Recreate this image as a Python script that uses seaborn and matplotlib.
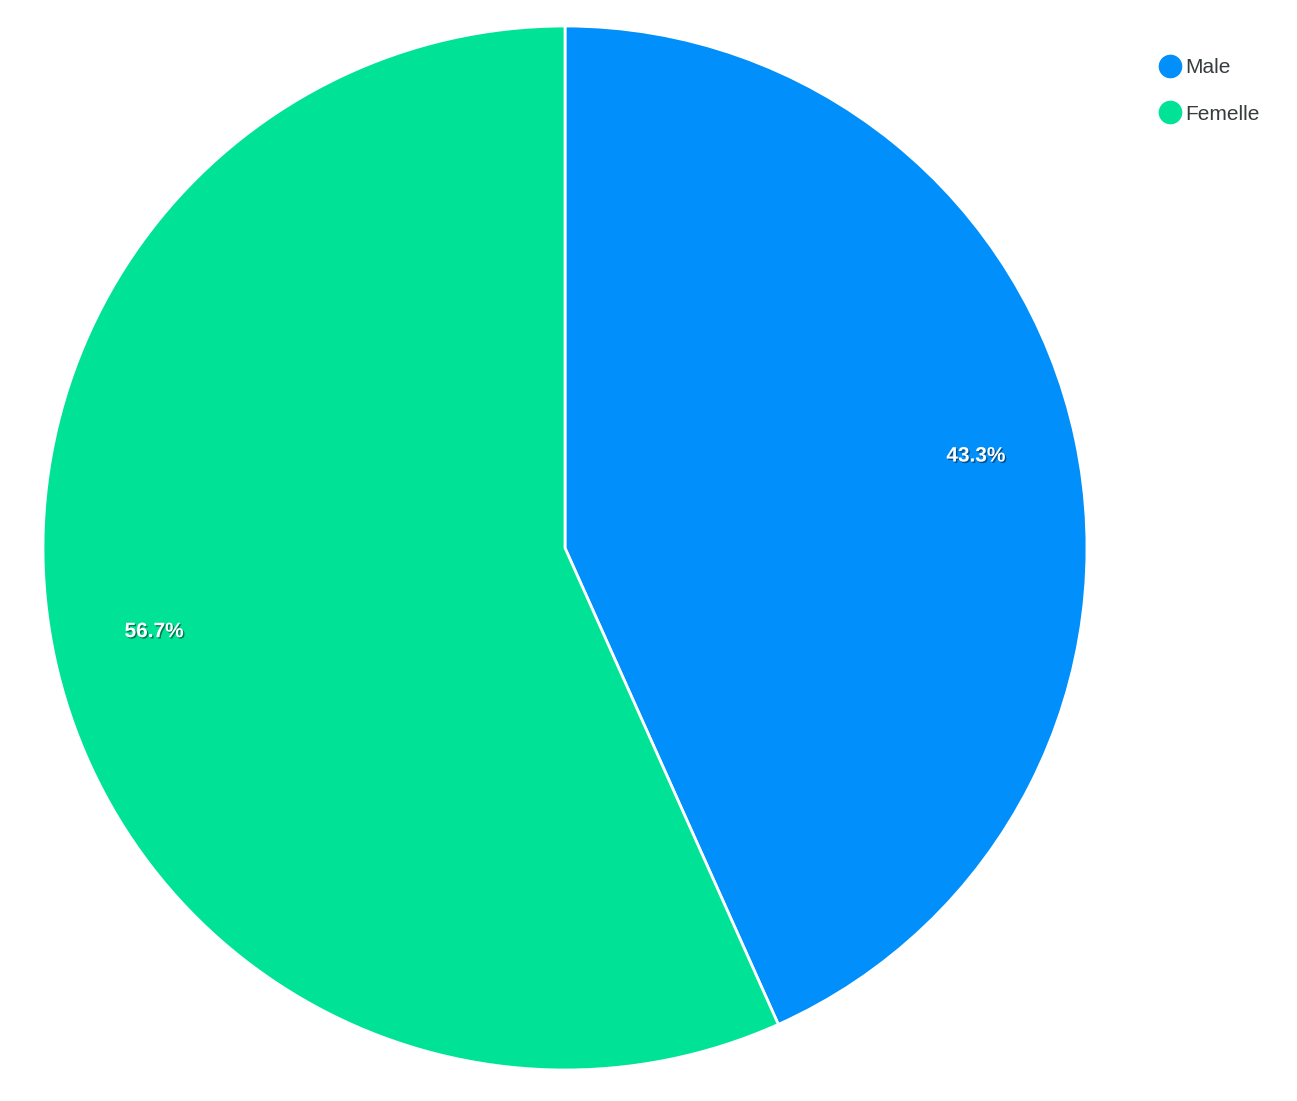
import matplotlib
matplotlib.use("Agg")
import matplotlib.pyplot as plt
import matplotlib.patheffects as pe
from matplotlib.lines import Line2D
import seaborn as sns

categories = ["Male", "Femelle"]
values = [43.3, 56.7]
colors = ["#008FFB", "#00E396"]

sns.set_theme(style="white")
plt.rcParams['font.family'] = ['Liberation Sans', 'DejaVu Sans']

W, H = 1297, 1101
fig = plt.figure(figsize=(W / 100, H / 100), dpi=100)
cx, cy, r = 565, 548, 522
ax = fig.add_axes([(cx - r) / W, (H - cy - r) / H, 2 * r / W, 2 * r / H])

wedges, texts, autotexts = ax.pie(
    values, colors=colors, startangle=90, counterclock=False,
    autopct="%.1f%%", pctdistance=0.805,
    wedgeprops=dict(edgecolor="white", linewidth=2),
    textprops=dict(color="white", fontsize=15, fontweight="bold"),
)
for t in autotexts:
    t.set_path_effects([pe.withSimplePatchShadow(offset=(1, -1), shadow_rgbFace="black", alpha=0.45)])
    x, y = t.get_position()
    t.set_position((x, y + 0.008))
ax.set_xlim(-1, 1)
ax.set_ylim(-1, 1)
ax.set_aspect("equal")
ax.axis("off")

handles = [Line2D([0], [0], marker="o", linestyle="none", markersize=16,
                  markerfacecolor=c, markeredgecolor=c) for c in colors]
fig.legend(handles, categories, loc="upper left",
           bbox_to_anchor=(1161 / W, 1 - 58 / H), frameon=False,
           fontsize=15, labelcolor="#373d3f", handlelength=0.9,
           handletextpad=0.25, labelspacing=1.32, borderaxespad=0, borderpad=0)

fig.savefig("out.png", dpi=100)
